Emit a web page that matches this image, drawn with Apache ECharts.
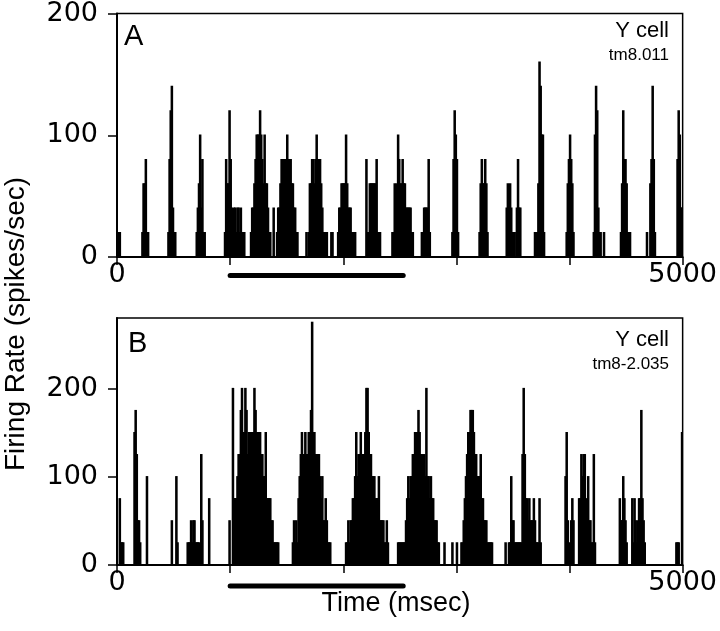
<!DOCTYPE html>
<html><head><meta charset="utf-8">
<script src="https://cdn.jsdelivr.net/npm/echarts@6/dist/echarts.min.js"></script>
<style>html,body{margin:0;padding:0;background:#fff}#c{width:720px;height:631px}</style>
</head><body><div id="c"></div>
<script>
// bin width in msec
const BIN_MS = 10;
// Panel A: [bin start (msec), firing rate (spikes/sec)]
const panelABins = [
[0,20],[10,20],[20,20],
[220,20],[230,60],[240,60],[250,80],[260,20],[270,20],
[450,20],[460,80],[470,120],[480,140],[490,40],[500,20],[510,20],
[700,20],[710,40],[720,60],[730,100],[740,40],[750,80],[760,20],[770,20],
[950,20],[960,80],[970,60],[980,60],[990,120],[1000,80],[1010,40],[1020,20],[1030,40],[1040,40],[1050,20],[1060,40],[1070,40],[1080,20],[1090,40],[1100,20],[1110,20],[1120,20],
[1180,20],[1190,40],[1200,40],[1210,60],[1220,80],[1230,100],[1240,100],[1250,100],[1260,120],[1270,100],[1280,80],[1290,60],[1300,100],[1310,60],[1320,60],[1330,40],[1340,20],[1350,20],[1380,40],
[1410,20],[1420,40],[1430,40],[1440,60],[1450,80],[1460,80],[1470,80],[1480,80],[1490,80],[1500,100],[1510,80],[1520,80],[1530,80],[1540,60],[1550,60],[1560,40],[1570,40],[1580,20],[1590,20],
[1670,20],[1690,20],[1700,60],[1710,60],[1720,80],[1730,80],[1740,60],[1750,80],[1760,100],[1770,80],[1780,60],[1790,80],[1800,60],[1810,40],[1820,20],[1830,20],[1840,20],[1850,20],[1890,20],[1900,20],
[1950,20],[1960,40],[1970,40],[1980,60],[1990,60],[2000,60],[2010,60],[2020,100],[2030,60],[2040,40],[2050,40],[2060,40],[2070,20],[2080,20],[2090,20],[2100,20],
[2200,80],[2210,20],[2220,20],[2230,60],[2240,60],[2250,60],[2260,60],[2270,60],[2280,60],[2290,80],[2300,20],[2310,20],[2320,20],
[2430,20],[2440,20],[2450,60],[2460,40],[2470,60],[2480,100],[2490,80],[2500,60],[2510,60],[2520,80],[2530,60],[2540,60],[2550,40],[2560,40],[2570,40],[2580,40],[2590,40],[2600,20],[2610,20],
[2690,20],[2700,20],[2710,40],[2720,40],[2730,40],[2740,40],[2750,80],[2760,20],
[2960,20],[2970,80],[2980,120],[2990,100],[3000,80],[3010,20],
[3200,20],[3210,60],[3220,80],[3230,60],[3240,60],[3250,80],[3260,60],[3270,20],
[3440,40],[3450,60],[3460,40],[3470,60],[3480,40],[3490,20],[3500,20],[3510,20],[3530,40],[3540,80],[3550,40],[3560,40],
[3690,20],[3710,20],[3720,60],[3730,160],[3740,140],[3750,100],[3760,100],[3770,20],
[3970,20],[3980,60],[3990,80],[4000,100],[4010,80],[4020,60],[4030,20],
[4210,20],[4220,100],[4230,140],[4240,120],[4250,40],[4260,20],[4270,20],[4300,20],
[4450,20],[4460,60],[4470,120],[4480,80],[4490,80],[4500,60],[4510,20],[4520,20],[4530,20],
[4680,20],[4710,60],[4720,80],[4730,140],[4740,80],[4750,20],
[4950,80],[4960,120],[4970,100],[4980,40],[4990,40]
];
// Panel B: [bin start (msec), firing rate (spikes/sec)]
const panelBBins = [
[20,75],[30,25],[40,25],[50,25],
[150,150],[160,175],[170,125],[180,50],[190,50],[200,25],
[260,100],[480,50],[520,100],[530,25],
[620,25],[630,25],[640,25],[650,50],[660,25],[670,50],[680,50],[690,25],[700,25],[710,25],[720,25],
[740,125],[750,50],[810,75],[990,50],
[1020,200],[1030,75],[1040,75],[1050,75],[1060,100],[1070,125],[1080,125],[1090,175],[1100,200],[1110,125],[1120,150],[1130,200],[1140,175],[1150,125],[1160,150],[1170,150],[1180,150],[1190,150],[1200,150],[1210,200],[1220,175],[1230,150],[1240,150],[1250,150],[1260,150],[1270,125],[1280,125],[1290,100],[1300,100],[1310,150],[1320,75],[1330,75],[1340,75],[1350,75],[1360,50],[1370,50],[1380,25],[1390,25],[1400,25],[1410,25],[1420,25],
[1550,25],[1560,50],[1570,25],[1580,50],[1590,25],[1600,75],[1610,100],[1620,125],[1630,150],[1640,125],[1650,125],[1660,150],[1670,125],[1680,125],[1690,150],[1700,150],[1710,175],[1720,275],[1730,150],[1740,150],[1750,125],[1760,125],[1770,125],[1780,125],[1790,100],[1800,75],[1810,100],[1820,50],[1830,50],[1840,75],[1850,50],[1860,25],[1870,25],[1880,25],
[2020,25],[2030,25],[2040,50],[2050,25],[2060,50],[2070,50],[2080,75],[2090,75],[2100,100],[2110,150],[2120,100],[2130,125],[2140,125],[2150,150],[2160,125],[2170,125],[2180,125],[2190,150],[2200,200],[2210,200],[2220,150],[2230,125],[2240,125],[2250,100],[2260,100],[2270,100],[2280,75],[2290,75],[2300,75],[2310,100],[2320,50],[2330,50],[2340,50],[2350,50],[2360,25],[2370,25],[2380,50],[2390,25],
[2480,25],[2490,25],[2500,25],[2510,25],[2520,25],[2530,25],[2540,25],[2550,50],[2560,75],[2570,100],[2580,75],[2590,100],[2600,100],[2610,125],[2620,125],[2630,150],[2640,150],[2650,150],[2660,175],[2670,150],[2680,125],[2690,125],[2700,100],[2710,125],[2720,100],[2730,200],[2740,100],[2750,100],[2760,75],[2770,100],[2780,75],[2790,75],[2800,50],[2810,50],[2820,50],[2830,25],[2840,25],
[2890,25],[2960,25],[3000,25],
[3040,25],[3050,25],[3060,50],[3070,75],[3080,100],[3090,125],[3100,150],[3110,150],[3120,175],[3130,175],[3140,175],[3150,150],[3160,125],[3170,125],[3180,100],[3190,100],[3200,100],[3210,125],[3220,75],[3230,75],[3240,50],[3250,50],[3260,50],[3270,25],[3280,25],[3290,25],[3300,25],[3310,25],
[3430,25],
[3460,25],[3470,25],[3480,100],[3490,50],[3500,50],[3510,25],[3520,25],[3530,25],[3540,25],[3550,25],[3560,25],[3570,25],[3580,125],[3590,200],[3600,125],[3610,75],[3620,75],[3630,50],[3640,75],[3650,50],[3660,50],[3670,50],[3680,75],[3690,50],[3700,25],[3710,25],[3720,25],[3730,75],[3740,25],
[3960,100],[3970,150],[3980,50],[3990,25],[4010,50],[4020,75],[4030,50],
[4080,75],[4090,75],[4100,125],[4110,100],[4120,125],[4130,125],[4140,75],[4150,50],[4160,100],[4170,50],[4180,50],[4190,25],[4200,25],[4210,125],[4220,25],
[4440,75],[4450,50],[4460,50],[4470,100],[4480,75],[4490,50],[4500,25],
[4550,75],[4560,25],[4570,75],[4580,50],[4590,25],[4600,50],[4610,75],[4620,75],[4630,175],[4640,75],[4650,50],[4660,25],
[4940,25],[4950,25],[4960,25],[4990,150]
];
const xTicks = [0, 1000, 2000, 3000, 4000, 5000];
const xShownLabels = ['0', '5000'];
const yMaxA = 200, yMaxB = 280;
const stimulus = [1000, 2530];
const panelNames = ['A', 'B'];
const cellType = 'Y cell';
const cellIds = ['tm8.011', 'tm8-2.035'];

const FONT = 'Liberation Sans, Arial, Helvetica, sans-serif';
const NUMFONT = 'DejaVu Sans, Liberation Sans, sans-serif';
const chart = echarts.init(document.getElementById('c'), null, {renderer: 'canvas'});

function renderBin(params, api) {
  const t = api.value(0), v = api.value(1);
  const p0 = api.coord([t, v]);
  const p1 = api.coord([t + BIN_MS, 0]);
  return {type: 'rect', shape: {x: p0[0], y: p0[1], width: p1[0] - p0[0], height: p1[1] - p0[1]},
    style: {fill: '#000', stroke: '#000', lineWidth: 1.4}};
}

function xAxisOpt(gi) {
  return {gridIndex: gi, type: 'value', min: xTicks[0], max: xTicks[xTicks.length - 1], interval: 1000,
    axisLine: {show: true, onZero: false, lineStyle: {color: '#000', width: 2}},
    axisTick: {show: true, inside: false, length: 8, lineStyle: {color: '#000', width: 1.5}},
    splitLine: {show: false},
    axisLabel: {margin: 4, color: '#000', fontSize: 27, fontFamily: NUMFONT,
      formatter: v => xShownLabels.indexOf(String(v)) >= 0 ? String(v) : ''}};
}
function yAxisOpt(gi, max) {
  return {gridIndex: gi, type: 'value', min: 0, max: max, interval: 100,
    axisLine: {show: true, lineStyle: {color: '#000', width: 2}},
    axisTick: {show: true, inside: false, length: 9, lineStyle: {color: '#000', width: 1.5}},
    splitLine: {show: false},
    axisLabel: {margin: 19, color: '#000', fontSize: 27, fontFamily: NUMFONT, showMaxLabel: max % 100 === 0,
      formatter: v => (v % 100 === 0 ? String(v) : '')}};
}

const option = {
  animation: false,
  backgroundColor: '#fff',
  grid: [
    {left: 117, top: 11, width: 569, height: 246, show: true, borderColor: '#000', borderWidth: 1.5, backgroundColor: 'transparent'},
    {left: 117, top: 318, width: 569, height: 247, show: true, borderColor: '#000', borderWidth: 1.5, backgroundColor: 'transparent'}
  ],
  xAxis: [xAxisOpt(0), xAxisOpt(1)],
  yAxis: [yAxisOpt(0, yMaxA), yAxisOpt(1, yMaxB)],
  series: [
    {type: 'custom', xAxisIndex: 0, yAxisIndex: 0, data: panelABins, renderItem: renderBin, encode: {x: 0, y: 1}, clip: true},
    {type: 'custom', xAxisIndex: 1, yAxisIndex: 1, data: panelBBins, renderItem: renderBin, encode: {x: 0, y: 1}, clip: true}
  ]
};
chart.setOption(option);

// annotations
const sA0 = chart.convertToPixel({xAxisIndex: 0}, stimulus[0]);
const sA1 = chart.convertToPixel({xAxisIndex: 0}, stimulus[1]);
const sB0 = chart.convertToPixel({xAxisIndex: 1}, stimulus[0]);
const sB1 = chart.convertToPixel({xAxisIndex: 1}, stimulus[1]);
const txt = (x, y, s, size, align) => ({type: 'text', x: x, y: y, silent: true,
  style: {text: s, fill: '#000', font: size + 'px ' + FONT, align: align || 'left', verticalAlign: 'middle'}});
chart.setOption({graphic: [
  {type: 'line', shape: {x1: sA0, y1: 275.5, x2: sA1, y2: 275.5}, style: {stroke: '#000', lineWidth: 5, lineCap: 'round'}},
  {type: 'line', shape: {x1: sB0, y1: 586, x2: sB1, y2: 586}, style: {stroke: '#000', lineWidth: 5, lineCap: 'round'}},
  txt(124, 37, panelNames[0], 29),
  txt(128, 344, panelNames[1], 29),
  txt(669, 31, cellType, 22, 'right'),
  txt(669, 55, cellIds[0], 17, 'right'),
  txt(669, 340, cellType, 22, 'right'),
  txt(669, 364, cellIds[1], 17, 'right'),
  txt(396, 604, 'Time (msec)', 27, 'center'),
  {type: 'text', x: 16, y: 324, rotation: Math.PI / 2, silent: true,
    style: {text: 'Firing Rate (spikes/sec)', fill: '#000', font: '28px ' + FONT, align: 'center', verticalAlign: 'middle'}}
]});
</script>
</body></html>
